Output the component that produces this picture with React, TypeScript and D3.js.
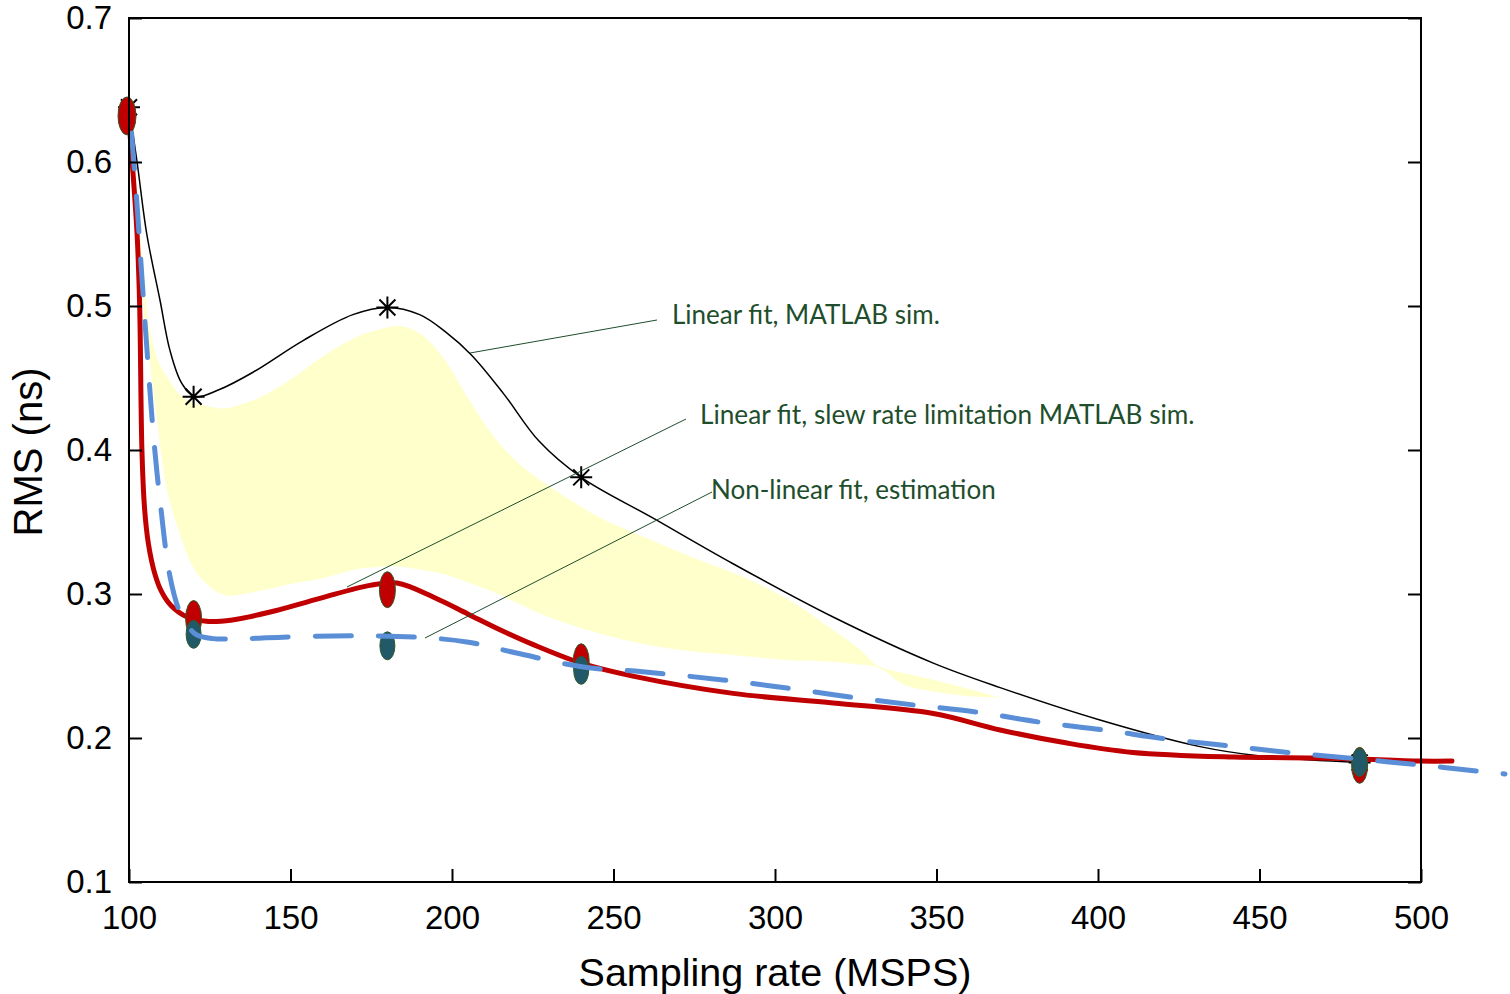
import React, { useEffect, useRef } from 'react'
import * as d3 from 'd3'

// values
const xTicks = [100, 150, 200, 250, 300, 350, 400, 450, 500]
const yTicks = [0.1, 0.2, 0.3, 0.4, 0.5, 0.6, 0.7]

// sample points of each MATLAB sim rate
const markerX = [100, 120, 180, 240, 481]
const linearMarkers = [0.638, 0.437, 0.499, 0.381, 0.183]
const slewMarkers = [0.632, 0.283, 0.303, 0.253, 0.181]
const estMarkerX = [120, 180, 240, 481]
const estMarkers = [0.272, 0.264, 0.247, 0.183]

// "Linear fit, MATLAB sim." curve
const linearX = [100, 102.5, 105.5, 109.6, 112.7, 116.3, 120.4, 128, 138.4, 153.9, 169.3, 180, 190, 198, 206, 216, 227, 240, 262, 287, 318, 349, 369.7, 400.6, 431.6, 450.2, 481]
const linearY = [0.638, 0.6, 0.55, 0.504, 0.469, 0.4465, 0.437, 0.442, 0.454, 0.476, 0.494, 0.499, 0.494, 0.482, 0.466, 0.439, 0.406, 0.381, 0.353, 0.321, 0.284, 0.252, 0.235, 0.2125, 0.194, 0.1875, 0.183]

// "Linear fit, slew rate limitation MATLAB sim." curve
const slewX = [100.3, 102.5, 103.3, 104, 104.8, 106, 108, 110, 113, 118, 124, 132, 143.7, 159.1, 174.6, 183, 195, 205, 215, 225, 240, 256, 287, 318, 349, 369.7, 390.4, 410.8, 441.8, 472.8, 499.7, 509.6]
const slewY = [0.62, 0.55, 0.5, 0.4, 0.36, 0.335, 0.314, 0.302, 0.292, 0.284, 0.281, 0.282, 0.2875, 0.297, 0.306, 0.3076, 0.297, 0.286, 0.275, 0.265, 0.252, 0.243, 0.231, 0.2243, 0.217, 0.2056, 0.1965, 0.19, 0.1868, 0.186, 0.184, 0.184]

// "Non-linear fit, estimation" curve
const estX = [100.8, 102.5, 104, 105.2, 107.5, 109.6, 112.7, 115.8, 118.5, 121, 126, 131.3, 147.7, 168.4, 189.2, 204.6, 220, 240.6, 259, 283.9, 303.7, 323.2, 342.7, 362.5, 382, 401.6, 421.4, 440.9, 460.4, 480.5, 499.7, 519.8, 526]
const estY = [0.62, 0.57, 0.52, 0.481, 0.412, 0.365, 0.312, 0.287, 0.277, 0.2715, 0.269, 0.2687, 0.27, 0.271, 0.27, 0.2667, 0.259, 0.2493, 0.246, 0.2403, 0.2347, 0.2285, 0.223, 0.218, 0.211, 0.2056, 0.1993, 0.1944, 0.1896, 0.1854, 0.1813, 0.1764, 0.175]

// yellow band
const bandX = [100.5, 102, 104, 106, 109, 112, 116, 120, 125, 130, 140, 150, 160, 170, 178, 184, 190, 197, 205, 212, 220, 230, 245, 260, 275, 290, 305, 318, 326, 332, 340, 350, 360, 370]
const bandHi = [0.62, 0.59, 0.535, 0.49, 0.462, 0.45, 0.438, 0.433, 0.43, 0.429, 0.436, 0.449, 0.465, 0.478, 0.484, 0.486, 0.481, 0.465, 0.436, 0.412, 0.392, 0.375, 0.354, 0.339, 0.325, 0.312, 0.295, 0.275, 0.262, 0.25, 0.245, 0.24, 0.234, 0.228]
const bandLo = [0.62, 0.57, 0.51, 0.47, 0.415, 0.37, 0.34, 0.318, 0.305, 0.299, 0.302, 0.307, 0.311, 0.317, 0.319, 0.319, 0.317, 0.314, 0.308, 0.302, 0.294, 0.284, 0.273, 0.265, 0.26, 0.257, 0.254, 0.253, 0.251, 0.249, 0.237, 0.232, 0.229, 0.228]

const labels = ['Linear fit, MATLAB sim.', 'Linear fit, slew rate limitation MATLAB sim.', 'Non-linear fit, estimation']

const W = 1510
const H = 994

export default function App() {
  const ref = useRef<SVGSVGElement>(null)

  useEffect(() => {
    const svg = d3.select(ref.current)
    svg.selectAll('*').remove()

    const x = d3.scaleLinear().domain([100, 500]).range([129, 1421])
    const y = d3.scaleLinear().domain([0.1, 0.7]).range([882, 18])

    const zip = (xs: number[], ys: number[]) => xs.map((v, i) => [v, ys[i]] as [number, number])
    const curve = d3.curveCatmullRom.alpha(0.5)

    // band
    const band = bandX.map((v, i) => ({ x: v, hi: bandHi[i], lo: bandLo[i] }))
    const area = d3.area<any>()
      .x(d => x(d.x))
      .y0(d => y(d.lo))
      .y1(d => y(d.hi))
      .curve(curve)
    svg.append('path').attr('d', area(band)).attr('fill', '#ffffcc')

    const line = d3.line<[number, number]>()
      .x(d => x(d[0]))
      .y(d => y(d[1]))
      .curve(curve)

    // black linear fit
    svg.append('path')
      .attr('d', line(zip(linearX, linearY)))
      .attr('fill', 'none')
      .attr('stroke', 'black')
      .attr('stroke-width', 1.5)

    // asterisks
    const star = 'M-11,0L11,0M0,-11L0,11M-8,-8L8,8M-8,8L8,-8'
    svg.selectAll('.star')
      .data(zip(markerX, linearMarkers))
      .enter()
      .append('path')
      .attr('d', star)
      .attr('transform', d => 'translate(' + x(d[0]) + ',' + y(d[1]) + ')')
      .attr('stroke', 'black')
      .attr('stroke-width', 2)
      .attr('fill', 'none')

    // red slew-rate curve
    svg.append('path')
      .attr('d', line(zip(slewX, slewY)))
      .attr('fill', 'none')
      .attr('stroke', '#c00000')
      .attr('stroke-width', 5)
      .attr('stroke-linecap', 'round')

    svg.selectAll('.redDot')
      .data(zip(markerX, slewMarkers))
      .enter()
      .append('ellipse')
      .attr('cx', d => x(d[0]) - (d[0] === 100 ? 2 : 0))
      .attr('cy', d => y(d[1]))
      .attr('rx', d => (d[0] === 100 ? 9 : 8))
      .attr('ry', d => (d[0] === 100 ? 19 : 18))
      .attr('fill', '#c00000')
      .attr('stroke', '#2f5a2f')
      .attr('stroke-width', 1)

    svg.selectAll('.tealDot')
      .data(zip(estMarkerX, estMarkers))
      .enter()
      .append('ellipse')
      .attr('cx', d => x(d[0]))
      .attr('cy', d => y(d[1]))
      .attr('rx', 7.5)
      .attr('ry', 14)
      .attr('fill', '#215968')
      .attr('stroke', '#2f5a2f')
      .attr('stroke-width', 1)

    // blue dashed estimation
    svg.append('path')
      .attr('d', line(zip(estX, estY)))
      .attr('fill', 'none')
      .attr('stroke', '#5a8fd8')
      .attr('stroke-width', 5)
      .attr('stroke-linecap', 'round')
      .attr('stroke-dasharray', '36,27')

    // frame
    svg.append('rect')
      .attr('x', 129).attr('y', 18)
      .attr('width', 1292).attr('height', 864)
      .attr('fill', 'none')
      .attr('stroke', 'black')
      .attr('stroke-width', 2)

    const font = '"Liberation Sans", Arial, sans-serif'

    const left = svg.append('g').attr('transform', 'translate(129,0)')
      .call(d3.axisLeft(y).tickValues(yTicks).tickFormat(d3.format('.1f')).tickSize(-13).tickPadding(17))
    const bottom = svg.append('g').attr('transform', 'translate(0,882)')
      .call(d3.axisBottom(x).tickValues(xTicks).tickSize(-13).tickPadding(24))
    const right = svg.append('g').attr('transform', 'translate(1421,0)')
      .call(d3.axisRight(y).tickValues(yTicks).tickFormat(() => '').tickSize(-13))

    ;[left, bottom, right].forEach(g => {
      g.select('.domain').remove()
      g.selectAll('line').attr('stroke', 'black').attr('stroke-width', 2)
      g.selectAll('text').attr('font-family', font).attr('font-size', 33).attr('fill', 'black')
    })

    svg.append('text')
      .attr('x', 775).attr('y', 986)
      .attr('text-anchor', 'middle')
      .attr('font-family', font)
      .attr('font-size', 39.5)
      .text('Sampling rate (MSPS)')

    svg.append('text')
      .attr('transform', 'translate(42,452) rotate(-90)')
      .attr('text-anchor', 'middle')
      .attr('font-family', font)
      .attr('font-size', 40)
      .text('RMS (ns)')

    // annotations
    const green = '#1e4e2c'
    const leaders = [
      [470, 353, 657, 320],
      [347, 587, 686, 419],
      [425, 638, 712, 492],
    ]
    leaders.forEach(l => {
      svg.append('line')
        .attr('x1', l[0]).attr('y1', l[1]).attr('x2', l[2]).attr('y2', l[3])
        .attr('stroke', green).attr('stroke-width', 1)
    })
    const pos = [[672, 324], [700, 424], [711, 499]]
    labels.forEach((t, i) => {
      svg.append('text')
        .attr('x', pos[i][0]).attr('y', pos[i][1])
        .attr('font-family', 'Lato, "Open Sans", sans-serif')
        .attr('font-size', i === 1 ? 26.2 : 26)
        .attr('fill', green)
        .text(t)
    })
  }, [])

  return (
    <svg ref={ref} width={W} height={H} style={{ position: 'absolute', left: 0, top: 0, background: 'white' }} />
  )
}
